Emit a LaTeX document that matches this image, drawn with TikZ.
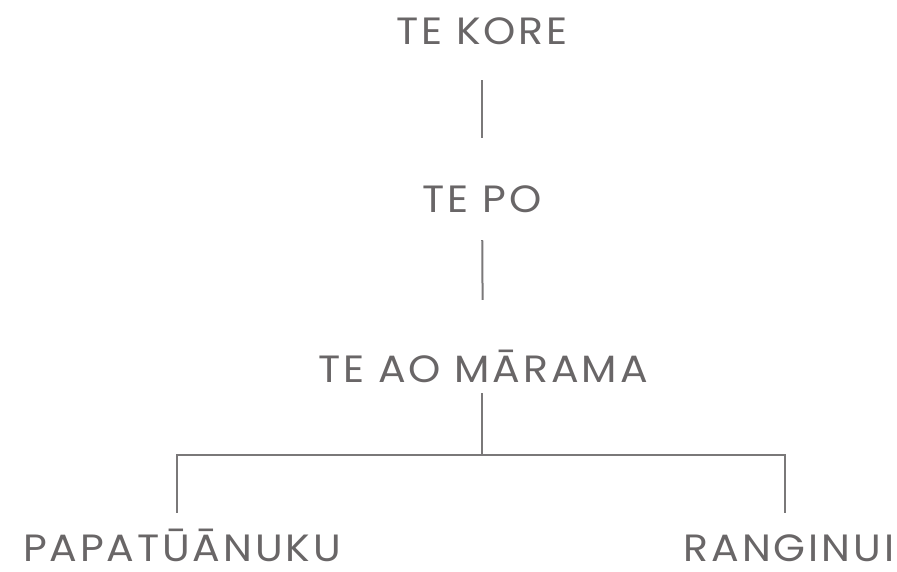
\documentclass[tikz,border=0pt]{standalone}
\usepackage{fontspec}
\setmainfont{Poppins}[LetterSpace=7]
\usetikzlibrary{positioning}
\definecolor{treegray}{HTML}{696667}
\definecolor{linegray}{HTML}{7A7879}
\newcommand{\widetext}[1]{\scalebox{1.08}[1]{#1}}

\begin{document}
\begin{tikzpicture}[
    x=1pt, y=-1pt,
    term/.style={inner sep=0pt, anchor=base, text height=27pt, text depth=0pt, text=treegray, font=\fontsize{38}{40}\selectfont},
    link/.style={draw=linegray, line width=2pt}
]
\useasboundingbox (0,0) rectangle (897,572);
\node (kore) [term] at (482,45) {\widetext{TE KORE}};
\node (po) [term] at (482,213) {\widetext{TE PO}};
\node (marama) [term] at (483,382) {\widetext{TE AO MĀRAMA}};
\node (papa) [term] at (182,561) {\widetext{PAPATŪĀNUKU}};
\node (rangi) [term] at (789,561) {\widetext{RANGINUI}};

\draw [link, shorten <=35pt, shorten >=48pt] (kore) -- (po);
\draw [link, shorten <=27pt, shorten >=55pt] (po) -- (marama);
\draw [link, shorten <=11pt, shorten >=21pt] ([xshift=-1pt]marama.south) -- ++(0,73) -| ([xshift=-5pt]papa.north);
\draw [link, shorten <=11pt, shorten >=21pt] ([xshift=-1pt]marama.south) -- ++(0,73) -| ([xshift=-4pt]rangi.north);
\end{tikzpicture}
\end{document}
